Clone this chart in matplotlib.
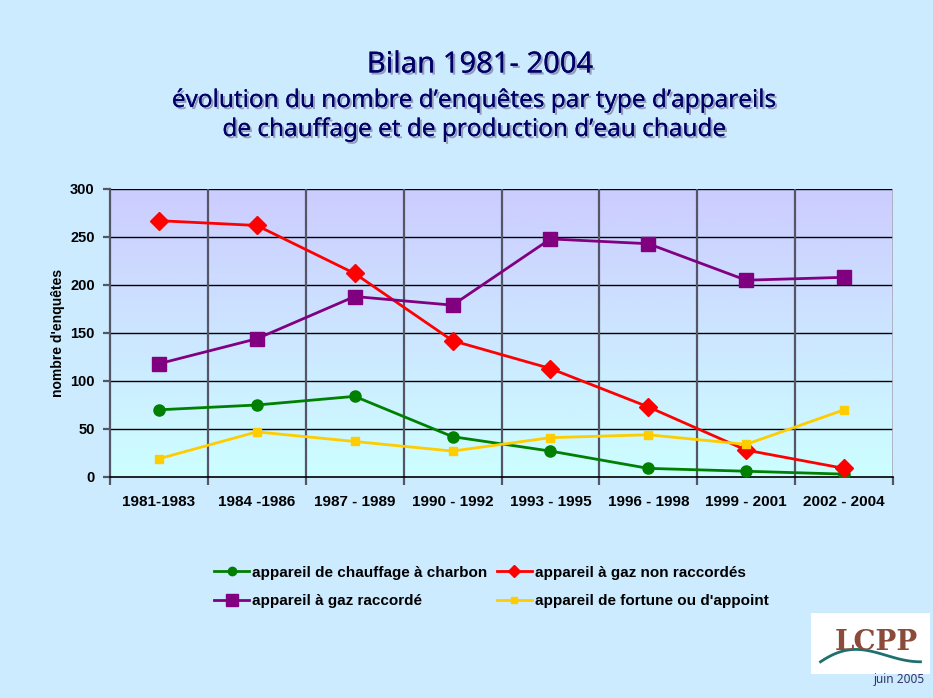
import matplotlib
matplotlib.use("Agg")
import matplotlib.pyplot as plt
import matplotlib.patheffects as pe
import numpy as np

categories = ["1981-1983", "1984 -1986", "1987 - 1989", "1990 - 1992",
              "1993 - 1995", "1996 - 1998", "1999 - 2001", "2002 - 2004"]
charbon = [70, 75, 84, 42, 27, 9, 6, 3]
gaz_non_raccordes = [267, 262, 212, 142, 113, 73, 28, 9]
gaz_raccorde = [118, 144, 188, 179, 248, 243, 205, 208]
fortune = [19, 47, 37, 27, 41, 44, 34, 70]
y_ticks = [0, 50, 100, 150, 200, 250, 300]

W, H = 933, 698
fig = plt.figure(figsize=(W / 100, H / 100), dpi=100)
fig.patch.set_facecolor("#CCEBFF")

ax = fig.add_axes([110 / W, 1 - 477 / H, (893 - 110) / W, (477 - 189) / H])
n = len(categories)
x = np.arange(n)
ax.set_xlim(-0.5, n - 0.5)
ax.set_ylim(0, 300)

# gradient background
grad = np.linspace(0, 1, 256).reshape(-1, 1)
top = np.array([204, 204, 255]) / 255
bot = np.array([204, 255, 255]) / 255
img = bot + (top - bot) * grad
img = img.reshape(256, 1, 3)
ax.imshow(img, extent=[-0.5, n - 0.5, 0, 300], origin="lower", aspect="auto", zorder=0)

for yv in y_ticks[1:]:
    ax.axhline(yv, color="black", lw=1.0, zorder=1)
for b in np.arange(0.5, n - 0.5, 1):
    ax.axvline(b, color="#555566", lw=1.6, zorder=1)
ax.axvline(n - 0.5, color="#AAAABB", lw=1.2, zorder=1)

l1, = ax.plot(x, charbon, color="#008000", lw=2, marker="o", ms=8, zorder=3,
              label="appareil de chauffage à charbon")
l2, = ax.plot(x, gaz_non_raccordes, color="#FF0000", lw=2, marker="D", ms=9, zorder=3,
              label="appareil à gaz non raccordés")
l3, = ax.plot(x, gaz_raccorde, color="#800080", lw=2, marker="s", ms=10, zorder=3,
              label="appareil à gaz raccordé")
l4, = ax.plot(x, fortune, color="#FFCC00", lw=2, marker="s", ms=6, zorder=3,
              label="appareil de fortune ou d'appoint")

for s in ["top", "right"]:
    ax.spines[s].set_visible(False)
ax.spines["left"].set_color("#555566")
ax.spines["left"].set_linewidth(1.6)
ax.spines["bottom"].set_color("black")
ax.spines["bottom"].set_linewidth(1.2)

ax.set_yticks(y_ticks)
ax.set_yticklabels([str(v) for v in y_ticks], fontsize=10.5, fontweight="bold",
                   family="Liberation Sans")
ax.set_xticks(np.arange(-0.5, n, 1))
ax.set_xticklabels([""] * (n + 1))
ax.set_xticks(x, minor=True)
ax.set_xticklabels(categories, minor=True, fontsize=11, fontweight="bold",
                   family="Liberation Sans")
ax.tick_params(axis="x", which="major", length=6, color="#555566", width=1.6)
ax.tick_params(axis="x", which="minor", length=0, pad=13)
ax.tick_params(axis="y", length=5, color="#555566", width=1.6, pad=6)

ax.set_ylabel("nombre d'enquêtes", fontsize=10, fontweight="bold",
              family="Liberation Sans", labelpad=4)

# legend (column-wise filling -> order so rows match reference)
handles = [l1, l3, l2, l4]
leg_lines = []
for h in handles:
    ms = 6 if h.get_marker() in ("o", "D") else (8 if h is l3 else 5)
    lh, = ax.plot([], [], color=h.get_color(), lw=2, marker=h.get_marker(), ms=ms,
                  label=h.get_label())
    leg_lines.append(lh)
leg = fig.legend(handles=leg_lines, loc="center left", bbox_to_anchor=(214 / W, 1 - 587 / H),
                 ncol=2, frameon=False,
                 prop={"family": "Liberation Sans", "weight": "bold", "size": 11},
                 handlelength=2.3, handletextpad=0.2, columnspacing=0.6, labelspacing=0.95,
                 borderpad=0, borderaxespad=0)

# titles
shadow = [pe.withSimplePatchShadow(offset=(1.5, -1.5), shadow_rgbFace="#8888AA", alpha=0.8), pe.Normal()]
fig.text(480 / W, 1 - 65 / H, "Bilan 1981- 2004", ha="center", va="center", fontsize=21,
         color="#000066", family="Noto Sans", path_effects=shadow)
fig.text(475 / W, 1 - 101 / H, "évolution du nombre d’enquêtes par type d’appareils", ha="center",
         va="center", fontsize=17.5, color="#000066", family="Noto Sans", path_effects=shadow)
fig.text(475 / W, 1 - 130 / H, "de chauffage et de production d’eau chaude", ha="center",
         va="center", fontsize=17.5, color="#000066", family="Noto Sans", path_effects=shadow)

# logo
logo = fig.add_axes([811 / W, 1 - 674 / H, (930 - 811) / W, (674 - 613) / H])
logo.set_facecolor("white")
logo.set_xticks([]); logo.set_yticks([])
for s in logo.spines.values():
    s.set_visible(False)
logo.text(0.55, 0.52, "LCPP", ha="center", va="center", fontsize=20, fontweight="bold",
          color="#8B4A3A", family="DejaVu Serif", transform=logo.transAxes)
t = np.linspace(0, 1, 50)
logo.plot(0.08 + 0.84 * t, 0.2 + 0.35 * np.sin(np.pi * t) * (1 - t), color="#1F6F6F", lw=2,
          transform=logo.transAxes)
logo.set_xlim(0, 1); logo.set_ylim(0, 1)
fig.text(899 / W, 1 - 680 / H, "juin 2005", ha="center", va="center", fontsize=8.5,
         color="#333366", family="Noto Sans")

fig.savefig("out.png", dpi=100, facecolor=fig.get_facecolor())
